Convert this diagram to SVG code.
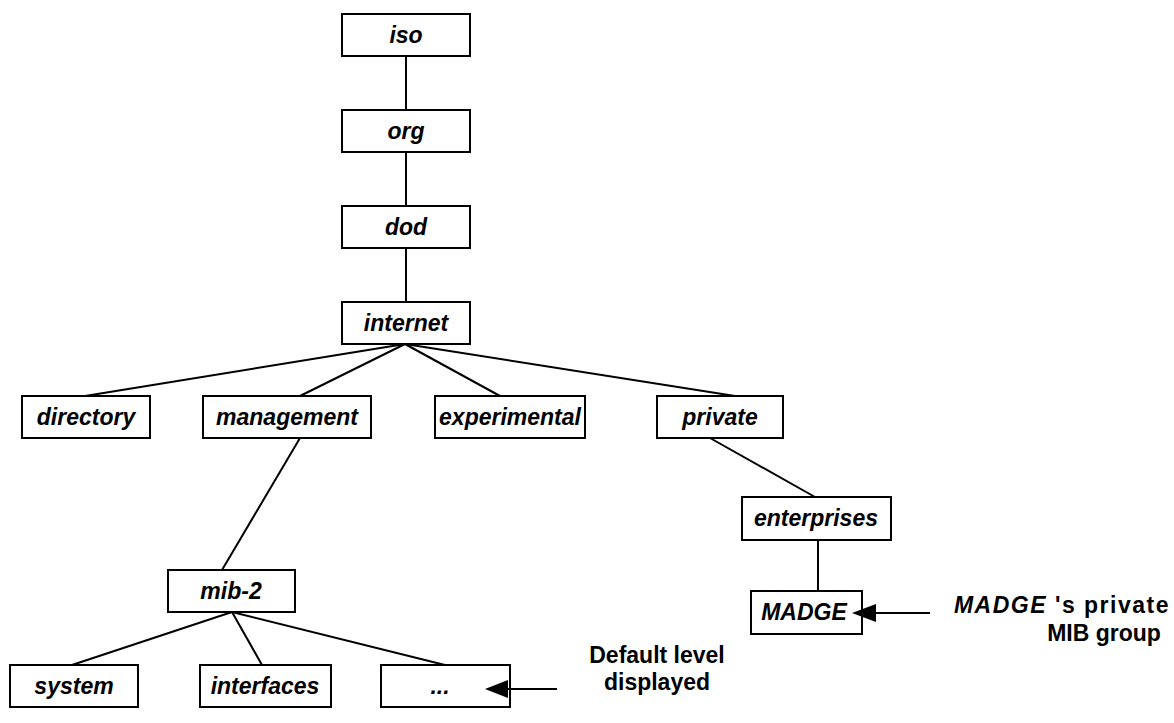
<svg xmlns="http://www.w3.org/2000/svg" width="1174" height="723" viewBox="0 0 1174 723">
<defs>
<style>
.box{fill:#fff;stroke:#000;stroke-width:2}
.lbl{font-family:"Liberation Sans",Arial,sans-serif;font-weight:bold;font-style:italic;font-size:23px;text-anchor:middle;fill:#000}
.ann{font-family:"Liberation Sans",Arial,sans-serif;font-weight:bold;font-size:23px;text-anchor:middle;fill:#000}
.con{stroke:#000;stroke-width:2;fill:none}
.ptr{stroke:#000;stroke-width:2}
.head{fill:#000}
</style>
</defs>
<rect width="1174" height="723" fill="#fff"/>
<g id="connectors">
<line class="con" x1="406" y1="56" x2="406" y2="110"/>
<line class="con" x1="406" y1="152" x2="406" y2="206"/>
<line class="con" x1="406" y1="248" x2="406" y2="302"/>
<line class="con" x1="405" y1="344" x2="85" y2="396"/>
<line class="con" x1="405" y1="344" x2="300" y2="396"/>
<line class="con" x1="405" y1="344" x2="500" y2="396"/>
<line class="con" x1="405" y1="344" x2="735" y2="396"/>
<line class="con" x1="300" y1="438" x2="222" y2="570"/>
<line class="con" x1="710" y1="438" x2="815" y2="497"/>
<line class="con" x1="818" y1="540" x2="818" y2="591"/>
<line class="con" x1="232" y1="612" x2="72" y2="665"/>
<line class="con" x1="232" y1="612" x2="262" y2="665"/>
<line class="con" x1="232" y1="612" x2="445" y2="665"/>
</g>
<g id="iso"><rect class="box" x="342" y="14" width="128" height="42"/><text class="lbl" x="406" y="43">iso</text></g>
<g id="org"><rect class="box" x="342" y="110" width="128" height="42"/><text class="lbl" x="406" y="139">org</text></g>
<g id="dod"><rect class="box" x="342" y="206" width="128" height="42"/><text class="lbl" x="406" y="235">dod</text></g>
<g id="internet"><rect class="box" x="342" y="302" width="128" height="42"/><text class="lbl" x="406" y="331">internet</text></g>
<g id="directory"><rect class="box" x="22" y="396" width="128" height="42"/><text class="lbl" x="86" y="425">directory</text></g>
<g id="management"><rect class="box" x="203" y="396" width="168" height="42"/><text class="lbl" x="287" y="425">management</text></g>
<g id="experimental"><rect class="box" x="435" y="396" width="150" height="42"/><text class="lbl" x="510" y="425">experimental</text></g>
<g id="private"><rect class="box" x="657" y="396" width="126" height="42"/><text class="lbl" x="720" y="425">private</text></g>
<g id="enterprises"><rect class="box" x="742" y="497" width="149" height="43"/><text class="lbl" x="816" y="526">enterprises</text></g>
<g id="madge"><rect class="box" x="751" y="591" width="111" height="43"/><text class="lbl" x="804" y="620">MADGE</text></g>
<g id="mib-2"><rect class="box" x="168" y="570" width="127" height="42"/><text class="lbl" x="231" y="599">mib-2</text></g>
<g id="system"><rect class="box" x="10" y="665" width="128" height="42"/><text class="lbl" x="74" y="694">system</text></g>
<g id="interfaces"><rect class="box" x="200" y="665" width="131" height="42"/><text class="lbl" x="265" y="694">interfaces</text></g>
<g id="more"><rect class="box" x="381" y="665" width="129" height="42"/><text class="lbl" x="440" y="694">...</text></g>
<g id="pointers">
<line class="ptr" x1="557" y1="689" x2="500" y2="689"/>
<path class="head" d="M485,689 L508,680 L508,698 Z"/>
<line class="ptr" x1="930" y1="613" x2="870" y2="613"/>
<path class="head" d="M852,613 L876,604 L876,622 Z"/>
</g>
<g id="note-default">
<text class="ann" x="657" y="663">Default level</text>
<text class="ann" x="657" y="690">displayed</text>
</g>
<g id="note-madge">
<text class="ann" x="1170" y="613" style="text-anchor:end;letter-spacing:1.5px"><tspan font-style="italic">MADGE</tspan> 's private</text>
<text class="ann" x="1104" y="641">MIB group</text>
</g>
</svg>
